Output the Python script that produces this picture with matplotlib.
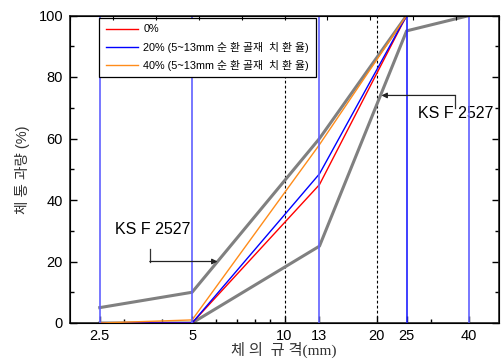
import matplotlib
matplotlib.use("Agg")
import matplotlib.pyplot as plt
from matplotlib.ticker import FixedLocator, NullFormatter, MultipleLocator
import numpy as np

# sieve sizes (mm) and percent passing
sizes = [2.5, 5, 13, 25, 40]
pass_0 = [0, 0, 45, 100, 100]
pass_20 = [0, 0, 48.5, 100, 100]
pass_40 = [0, 1, 58, 100, 100]
ks_upper = [5, 10, 60, 100, 100]
ks_lower = [0, 0, 25, 95, 100]

tick_sizes = [2.5, 5, 10, 13, 20, 25, 40]
tick_labels = ["2.5", "5", "10", "13", "20", "25", "40"]
blue_guides = [2.5, 5, 13, 25, 40]
dash_guides = [10, 20]

labels = ["0%",
          "20% (5~13mm 순 환 골재  치 환 율)",
          "40% (5~13mm 순 환 골재  치 환 율)"]

KR = ["Liberation Sans", "Noto Sans CJK KR"]
KR_SERIF = ["Liberation Serif", "Noto Sans CJK KR"]

fig = plt.figure(figsize=(5.01, 3.6), dpi=100)
ax = fig.add_axes([70 / 501, 1 - 323 / 360, 429 / 501, 307.5 / 360])

ax.plot(sizes, ks_upper, color="#808080", lw=2.2, zorder=2)
ax.plot(sizes, ks_lower, color="#808080", lw=2.2, zorder=2)
l0, = ax.plot(sizes, pass_0, color="#ff0000", lw=1.0, zorder=3)
l20, = ax.plot(sizes, pass_20, color="#0000ff", lw=1.0, zorder=3)
l40, = ax.plot(sizes, pass_40, color="#ff8c1a", lw=1.0, zorder=3)

for x in blue_guides:
    c = "#1f1fff" if x == 25 else "#6060ff"
    ax.axvline(x, color=c, lw=1.2, zorder=4)
for x in dash_guides:
    ax.axvline(x, color="black", lw=0.8, ls=(0, (2.5, 2)), zorder=1)

ax.set_xscale("log")
ax.set_xlim(2, 50)
ax.set_ylim(0, 100)
ax.xaxis.set_major_locator(FixedLocator(tick_sizes))
ax.set_xticklabels(tick_labels)
ax.xaxis.set_minor_locator(FixedLocator([3, 4, 6, 7, 8, 9, 30]))
ax.xaxis.set_minor_formatter(NullFormatter())
ax.yaxis.set_major_locator(MultipleLocator(20))
ax.yaxis.set_minor_locator(MultipleLocator(10))

ax.tick_params(which="both", direction="in", right=True, labelsize=10.5)
ax.tick_params(axis="x", pad=4)
ax.tick_params(axis="y", pad=5)
ax.tick_params(which="major", length=5, width=1)
ax.tick_params(which="minor", length=3, width=1)
for lab in ax.get_xticklabels() + ax.get_yticklabels():
    lab.set_family("Liberation Sans")
for sp in ax.spines.values():
    sp.set_linewidth(1.2)
    sp.set_color("#222222")

# linear ticks on the top edge
top = ax.twiny()
top.set_xlim(0, 10)
top.xaxis.set_major_locator(MultipleLocator(1))
top.tick_params(axis="x", direction="in", length=3, labeltop=False)

fig.text(284 / 501, 1 - 350 / 360, "체 의  규 격(mm)", family=KR_SERIF, fontsize=11,
         color="#333333", ha="center", va="center")
ax.set_ylabel("체 통 과량 (%)", family=KR, fontsize=10.5, color="#333333", labelpad=6)

leg = ax.legend([l0, l20, l40], labels, loc="upper left",
                bbox_to_anchor=(99 / 501, 1 - 18 / 360), bbox_transform=fig.transFigure,
                prop={"family": KR, "size": 7.8}, frameon=True, fancybox=False,
                edgecolor="black", framealpha=1, borderaxespad=0, borderpad=0.6,
                handlelength=3.0, handletextpad=0.5, labelspacing=0.65)
leg.get_frame().set_linewidth(0.9)
leg.set_zorder(10)

# KS F 2527 callouts
ax.text(3.72, 30.5, "KS F 2527", ha="center", va="center", fontsize=11.5,
        family="Liberation Sans")
ax.plot([3.64, 3.64], [24, 20], color="#333333", lw=0.9, zorder=5)
ax.annotate("", xy=(6.05, 20), xytext=(3.64, 20),
            arrowprops=dict(arrowstyle="-|>", color="#222222", lw=0.9,
                            mutation_scale=8, shrinkA=0, shrinkB=0), zorder=5)

ax.text(36.2, 68.2, "KS F 2527", ha="center", va="center", fontsize=11.5,
        family="Liberation Sans")
ax.plot([36, 36], [74, 70], color="#333333", lw=0.9, zorder=5)
ax.annotate("", xy=(20.7, 74), xytext=(36, 74),
            arrowprops=dict(arrowstyle="-|>", color="#222222", lw=0.9,
                            mutation_scale=8, shrinkA=0, shrinkB=0), zorder=5)

fig.savefig("out.png", dpi=100)
